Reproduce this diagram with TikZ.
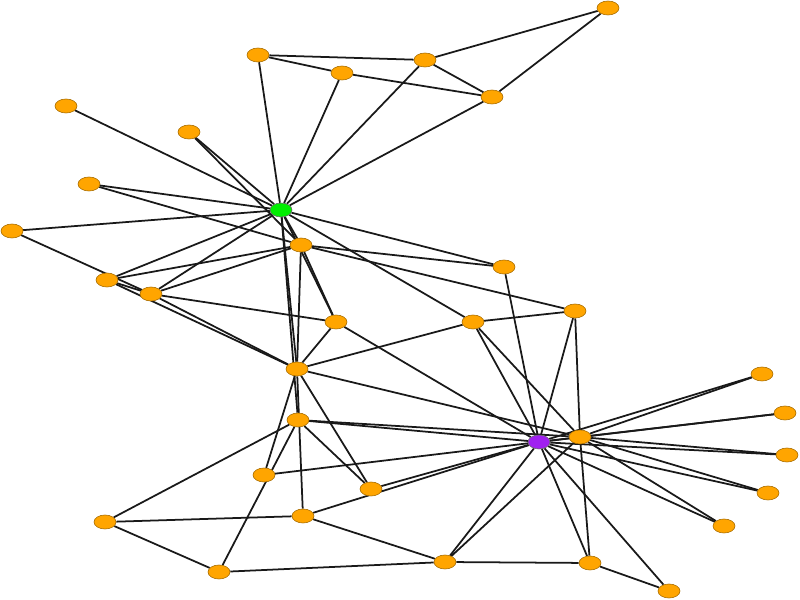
\documentclass[tikz,border=0pt]{standalone}
\usetikzlibrary{shapes.geometric,backgrounds}

\definecolor{vorange}{RGB}{255,165,0}
\definecolor{vgreen}{RGB}{0,238,0}
\definecolor{vpurple}{RGB}{160,32,240}

\begin{document}
\begin{tikzpicture}[x=0.03cm,y=-0.03cm,
    member/.style ={ellipse, draw=vorange!65!black, fill=vorange, line width=0.5pt,
                    minimum width=0.66cm, minimum height=0.42cm, inner sep=0pt},
    leader/.style ={member, draw=black!60},
    tie/.style ={line width=1.5pt, black!90}]
   \useasboundingbox (0,0) rectangle (800,600);
   \node[leader, fill=vgreen] (n1) at (281,210) {};
   \node[member] (n2) at (301,245) {};
   \node[member] (n3) at (297,369) {};
   \node[member] (n4) at (151,294) {};
   \node[member] (n5) at (342,73) {};
   \node[member] (n6) at (425,60) {};
   \node[member] (n7) at (492,97) {};
   \node[member] (n8) at (107,280) {};
   \node[member] (n9) at (473,322) {};
   \node[member] (n10) at (264,475) {};
   \node[member] (n11) at (258,55) {};
   \node[member] (n12) at (66,106) {};
   \node[member] (n13) at (12,231) {};
   \node[member] (n14) at (336,322) {};
   \node[member] (n15) at (762,374) {};
   \node[member] (n16) at (785,413) {};
   \node[member] (n17) at (608,8) {};
   \node[member] (n18) at (89,184) {};
   \node[member] (n19) at (787,455) {};
   \node[member] (n20) at (504,267) {};
   \node[member] (n21) at (768,493) {};
   \node[member] (n22) at (189,132) {};
   \node[member] (n23) at (724,526) {};
   \node[member] (n24) at (445,562) {};
   \node[member] (n25) at (105,522) {};
   \node[member] (n26) at (219,572) {};
   \node[member] (n27) at (669,591) {};
   \node[member] (n28) at (303,516) {};
   \node[member] (n29) at (371,489) {};
   \node[member] (n30) at (590,563) {};
   \node[member] (n31) at (575,311) {};
   \node[member] (n32) at (298,420) {};
   \node[member] (n33) at (580,437) {};
   \node[leader, fill=vpurple] (n34) at (539,442) {};
   \begin{scope}[on background layer]
   % green hub
   \draw[tie] (n1) to (n2);
   \draw[tie] (n1) to (n3);
   \draw[tie] (n1) to (n4);
   \draw[tie] (n1) to (n5);
   \draw[tie] (n1) to (n6);
   \draw[tie] (n1) to (n7);
   \draw[tie] (n1) to (n8);
   \draw[tie] (n1) to (n9);
   \draw[tie] (n1) to (n11);
   \draw[tie] (n1) to (n12);
   \draw[tie] (n1) to (n13);
   \draw[tie] (n1) to (n14);
   \draw[tie] (n1) to (n18);
   \draw[tie] (n1) to (n20);
   \draw[tie] (n1) to (n22);
   \draw[tie] (n1) to (n32);
   \draw[tie] (n2) to (n3);
   \draw[tie] (n2) to (n4);
   \draw[tie] (n2) to (n8);
   \draw[tie] (n2) to (n14);
   \draw[tie] (n2) to (n18);
   \draw[tie] (n2) to (n20);
   \draw[tie] (n2) to (n22);
   \draw[tie] (n2) to (n31);
   \draw[tie] (n3) to (n4);
   \draw[tie] (n3) to (n8);
   \draw[tie] (n3) to (n9);
   \draw[tie] (n3) to (n10);
   \draw[tie] (n3) to (n14);
   \draw[tie] (n3) to (n28);
   \draw[tie] (n3) to (n29);
   \draw[tie] (n3) to (n33);
   \draw[tie] (n4) to (n8);
   \draw[tie] (n4) to (n13);
   \draw[tie] (n4) to (n14);
   \draw[tie] (n5) to (n7);
   \draw[tie] (n5) to (n11);
   \draw[tie] (n6) to (n7);
   \draw[tie] (n6) to (n11);
   \draw[tie] (n6) to (n17);
   \draw[tie] (n7) to (n17);
   % purple hub
   \draw[tie] (n9) to (n31);
   \draw[tie] (n9) to (n33);
   \draw[tie] (n9) to (n34);
   \draw[tie] (n10) to (n34);
   \draw[tie] (n14) to (n34);
   \draw[tie] (n15) to (n33);
   \draw[tie] (n15) to (n34);
   \draw[tie] (n16) to (n33);
   \draw[tie] (n16) to (n34);
   \draw[tie] (n19) to (n33);
   \draw[tie] (n19) to (n34);
   \draw[tie] (n20) to (n34);
   \draw[tie] (n21) to (n33);
   \draw[tie] (n21) to (n34);
   \draw[tie] (n23) to (n33);
   \draw[tie] (n23) to (n34);
   \draw[tie] (n24) to (n26);
   \draw[tie] (n24) to (n28);
   \draw[tie] (n24) to (n30);
   \draw[tie] (n24) to (n33);
   \draw[tie] (n24) to (n34);
   \draw[tie] (n25) to (n26);
   \draw[tie] (n25) to (n28);
   \draw[tie] (n25) to (n32);
   \draw[tie] (n26) to (n32);
   \draw[tie] (n27) to (n30);
   \draw[tie] (n27) to (n34);
   \draw[tie] (n28) to (n34);
   \draw[tie] (n29) to (n32);
   \draw[tie] (n29) to (n34);
   \draw[tie] (n30) to (n33);
   \draw[tie] (n30) to (n34);
   \draw[tie] (n31) to (n33);
   \draw[tie] (n31) to (n34);
   \draw[tie] (n32) to (n33);
   \draw[tie] (n32) to (n34);
   \draw[tie] (n33) to (n34);
   \end{scope}
 \end{tikzpicture}
\end{document}
